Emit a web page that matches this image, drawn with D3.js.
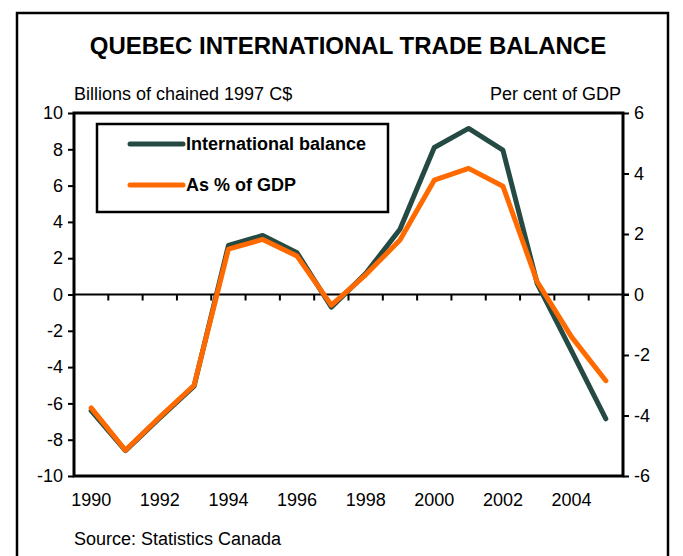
<!DOCTYPE html>
<html>
<head>
<meta charset="utf-8">
<script src="https://cdn.jsdelivr.net/npm/d3@7"></script>
<style>
  body { margin: 0; background: #fff; }
  text { font-family: "Liberation Sans", Arial, sans-serif; fill: #000; }
</style>
</head>
<body>
<script>
// Data
const years = d3.range(1990, 2006);
const balance = [-6.4, -8.6, -6.8, -5.05, 2.7, 3.25, 2.3, -0.7, 1.15, 3.6, 8.1, 9.15, 7.95, 0.6, -3.1, -6.85];
const pctGdp = [-3.75, -5.15, -4.05, -3.0, 1.5, 1.82, 1.27, -0.35, 0.65, 1.8, 3.78, 4.17, 3.58, 0.42, -1.4, -2.85];
const leftTicks = [10, 8, 6, 4, 2, 0, -2, -4, -6, -8, -10];
const rightTicks = [6, 4, 2, 0, -2, -4, -6];
const yearLabels = [1990, 1992, 1994, 1996, 1998, 2000, 2002, 2004];

const width = 683, height = 556;
const plot = { left: 74, right: 623, top: 113, bottom: 476 };
const darkColor = "#254a44", orangeColor = "#ff6a00";

const svg = d3.select("body").append("svg")
  .attr("width", width)
  .attr("height", height);

// outer frame
svg.append("rect")
  .attr("x", 17).attr("y", 13)
  .attr("width", 651).attr("height", 560)
  .attr("fill", "none").attr("stroke", "#000").attr("stroke-width", 2.5);

// title
svg.append("text")
  .text("QUEBEC INTERNATIONAL TRADE BALANCE")
  .attr("x", 348).attr("y", 54)
  .attr("text-anchor", "middle")
  .attr("font-size", "24px")
  .attr("font-weight", "bold");

// scales
const x = d3.scaleBand()
  .domain(years)
  .range([plot.left, plot.right]);

const yLeft = d3.scaleLinear()
  .domain([-10, 10])
  .range([plot.bottom, plot.top]);

const yRight = d3.scaleLinear()
  .domain([-6, 6])
  .range([plot.bottom, plot.top]);

const cx = d => x(d) + x.bandwidth() / 2;

// axis titles
svg.append("text")
  .text("Billions of chained 1997 C$")
  .attr("x", plot.left).attr("y", 100)
  .attr("font-size", "18px");

svg.append("text")
  .text("Per cent of GDP")
  .attr("x", plot.right - 2).attr("y", 100)
  .attr("text-anchor", "end")
  .attr("font-size", "18px");

// left axis
const leftAxis = svg.append("g")
  .attr("transform", `translate(${plot.left},0)`)
  .call(d3.axisLeft(yLeft).tickValues(leftTicks).tickSize(6).tickPadding(5).tickFormat(d => d));

// right axis
const rightAxis = svg.append("g")
  .attr("transform", `translate(${plot.right},0)`)
  .call(d3.axisRight(yRight).tickValues(rightTicks).tickSize(6).tickPadding(5).tickFormat(d => d));

[leftAxis, rightAxis].forEach(g => {
  g.select(".domain").remove();
  g.selectAll(".tick line").attr("stroke", "#000").attr("stroke-width", 2);
  g.selectAll(".tick text")
    .attr("font-size", "18px")
    .attr("font-family", "Liberation Sans, Arial, sans-serif")
    .attr("fill", "#000");
});

// plot frame
svg.append("rect")
  .attr("x", plot.left).attr("y", plot.top)
  .attr("width", plot.right - plot.left)
  .attr("height", plot.bottom - plot.top)
  .attr("fill", "none").attr("stroke", "#000").attr("stroke-width", 3);

// zero line with category ticks
const zeroAxis = svg.append("g")
  .attr("transform", `translate(0,${yLeft(0)})`);

zeroAxis.append("line")
  .attr("x1", plot.left).attr("x2", plot.right + 6)
  .attr("stroke", "#000").attr("stroke-width", 2);

zeroAxis.selectAll("line.tick")
  .data(years.slice(1))
  .enter()
  .append("line")
  .attr("class", "tick")
  .attr("x1", d => x(d)).attr("x2", d => x(d))
  .attr("y1", 0).attr("y2", 6)
  .attr("stroke", "#000").attr("stroke-width", 2);

// year labels
svg.selectAll("text.year")
  .data(yearLabels)
  .enter()
  .append("text")
  .attr("class", "year")
  .text(d => d)
  .attr("x", d => cx(d))
  .attr("y", 506)
  .attr("text-anchor", "middle")
  .attr("font-size", "18px");

// lines
const lineLeft = d3.line()
  .x((d, i) => cx(years[i]))
  .y(d => yLeft(d));

const lineRight = d3.line()
  .x((d, i) => cx(years[i]))
  .y(d => yRight(d));

svg.append("path")
  .datum(balance)
  .attr("d", lineLeft)
  .attr("fill", "none")
  .attr("stroke", darkColor)
  .attr("stroke-width", 5)
  .attr("stroke-linecap", "round")
  .attr("stroke-linejoin", "round");

svg.append("path")
  .datum(pctGdp)
  .attr("d", lineRight)
  .attr("fill", "none")
  .attr("stroke", orangeColor)
  .attr("stroke-width", 5)
  .attr("stroke-linecap", "round")
  .attr("stroke-linejoin", "round");

// legend
const legend = svg.append("g")
  .attr("transform", "translate(97,124)");

legend.append("rect")
  .attr("width", 291).attr("height", 88)
  .attr("fill", "#fff").attr("stroke", "#000").attr("stroke-width", 2.5);

const legendItems = [
  { label: "International balance", color: darkColor, y: 20 },
  { label: "As % of GDP", color: orangeColor, y: 61 }
];

legend.selectAll("line.item")
  .data(legendItems)
  .enter()
  .append("line")
  .attr("class", "item")
  .attr("x1", 33).attr("x2", 86)
  .attr("y1", d => d.y).attr("y2", d => d.y)
  .attr("stroke", d => d.color)
  .attr("stroke-width", 5)
  .attr("stroke-linecap", "round");

legend.selectAll("text.item")
  .data(legendItems)
  .enter()
  .append("text")
  .attr("class", "item")
  .text(d => d.label)
  .attr("x", 89)
  .attr("y", d => d.y + 6)
  .attr("font-size", "18px")
  .attr("font-weight", "bold");

// source
svg.append("text")
  .text("Source: Statistics Canada")
  .attr("x", plot.left).attr("y", 545)
  .attr("font-size", "18px");
</script>
</body>
</html>
